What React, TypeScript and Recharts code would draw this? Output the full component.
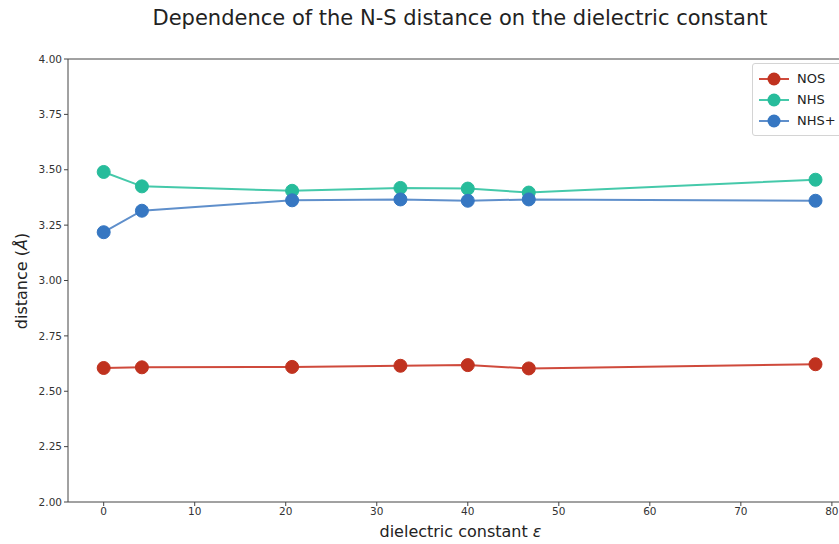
import React from 'react';
import { LineChart, Line, XAxis, YAxis, ReferenceLine } from 'recharts';

const epsilon = [0, 4.2, 20.7, 32.6, 40.0, 46.7, 78.2];
const nos = [2.605, 2.608, 2.61, 2.615, 2.618, 2.603, 2.622];
const nhs = [3.49, 3.425, 3.405, 3.418, 3.415, 3.397, 3.455];
const nhsPlus = [3.218, 3.315, 3.362, 3.366, 3.36, 3.366, 3.36];
const xTicks = [0, 10, 20, 30, 40, 50, 60, 70, 80];
const yTicks = [2.0, 2.25, 2.5, 2.75, 3.0, 3.25, 3.5, 3.75, 4.0];

const data = epsilon.map((e, i) => ({ e, NOS: nos[i], NHS: nhs[i], 'NHS+': nhsPlus[i] }));

const series = [
  { key: 'NOS', line: '#cf4a3c', dot: '#c0321f' },
  { key: 'NHS', line: '#45c9aa', dot: '#27bc9b' },
  { key: 'NHS+', line: '#5f8fcb', dot: '#3677c2' },
];

const font = 'DejaVu Sans, sans-serif';

const LegendBox = () => (
  <div style={{ border: '1px solid #d4d4d4', borderRadius: 3, background: '#fff', padding: '4px 10px 4px 6px', fontFamily: font, fontSize: 13, color: '#222' }}>
    {series.map((s) => (
      <div key={s.key} style={{ display: 'flex', alignItems: 'center', height: 21 }}>
        <svg width={30} height={16} style={{ marginRight: 8 }}>
          <line x1={0} y1={8} x2={30} y2={8} stroke={s.line} strokeWidth={2} />
          <circle cx={15} cy={8} r={6.5} fill={s.dot} />
        </svg>
        <span>{s.key}</span>
      </div>
    ))}
  </div>
);

export default function App() {
  return (
    <div style={{ position: 'absolute', left: 0, top: 0, width: 839, height: 544, overflow: 'hidden', background: '#fff' }}>
      <div style={{ position: 'absolute', left: 0, top: 0 }}>
        <LineChart width={870} height={544} data={data} margin={{ top: 59, right: 17, bottom: 0, left: 0 }}>
          <XAxis
            dataKey="e"
            type="number"
            domain={[-3.92, 82.32]}
            ticks={xTicks}
            allowDataOverflow
            height={42}
            stroke="#444"
            tickSize={4}
            tick={{ fill: '#333', fontSize: 10.5, fontFamily: font }}
            tickLine={{ stroke: '#444' }}
          />
          <YAxis
            type="number"
            domain={[2, 4]}
            ticks={yTicks}
            width={68}
            stroke="#444"
            tickSize={4}
            tickFormatter={(v: number) => v.toFixed(2)}
            tick={{ fill: '#333', fontSize: 10.5, fontFamily: font }}
            tickLine={{ stroke: '#444' }}
          />
          <ReferenceLine y={4} stroke="#444" />
          {series.map((s) => (
            <Line
              key={s.key}
              dataKey={s.key}
              stroke={s.line}
              strokeWidth={2}
              dot={{ r: 6.5, fill: s.dot, stroke: s.dot, strokeWidth: 1 }}
              activeDot={false}
              isAnimationActive={false}
            />
          ))}
        </LineChart>
      </div>
      <div style={{ position: 'absolute', left: 0, top: 6, width: 920, textAlign: 'center', fontFamily: font, fontSize: 21, color: '#222' }}>
        Dependence of the N-S distance on the dielectric constant
      </div>
      <div style={{ position: 'absolute', left: 68, top: 522, width: 785, textAlign: 'center', fontFamily: font, fontSize: 16, color: '#222' }}>
        dielectric constant <i>ε</i>
      </div>
      <div style={{ position: 'absolute', left: 21, top: 281, fontFamily: font, fontSize: 16, color: '#222', transform: 'translate(-50%, -50%) rotate(-90deg)', whiteSpace: 'nowrap' }}>
        distance (<i>Å</i>)
      </div>
      <div style={{ position: 'absolute', left: 752, top: 63 }}>
        <LegendBox />
      </div>
    </div>
  );
}
